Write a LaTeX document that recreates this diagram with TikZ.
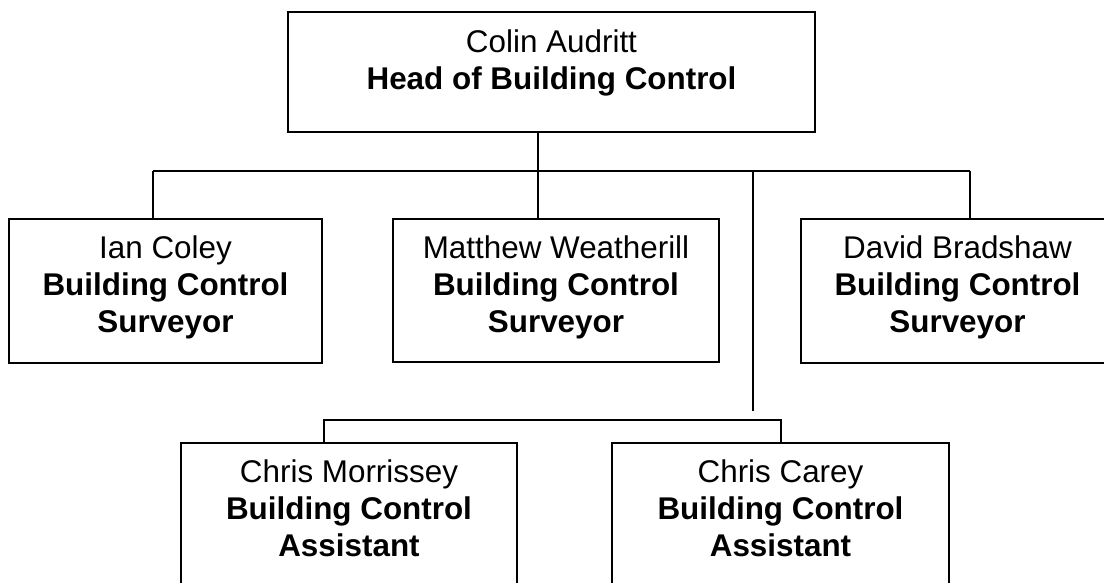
\documentclass[tikz,border=0pt]{standalone}
\usepackage{fontspec}
\setmainfont{Liberation Sans}
\usetikzlibrary{calc}
\begin{document}
\begin{tikzpicture}[x=1pt,y=-1pt,
  line width=1.2pt,
  postbox/.style={draw=black, line width=1.2pt, rectangle, inner sep=0pt},
  posttext/.style={anchor=north, inner sep=0pt, align=center,
    font=\fontsize{31.4}{36.8}\selectfont},
  wire/.style={draw=black, line width=1.2pt}]
\useasboundingbox (0,0) rectangle (1104,583);
\clip (0,0) rectangle (1104,583);
\fill[white] (0,0) rectangle (1104,583);

% posts
\node[postbox, minimum width=527pt, minimum height=120pt] (head) at (551.5,72) {};
\node[postbox, minimum width=313pt, minimum height=144pt] (ian) at (165.5,291) {};
\node[postbox, minimum width=326pt, minimum height=143pt] (matt) at (556,290.5) {};
\node[postbox, minimum width=313pt, minimum height=144pt] (david) at (957.5,291) {};
\node[postbox, minimum width=336pt, minimum height=144pt] (morr) at (349,515) {};
\node[postbox, minimum width=337pt, minimum height=144pt] (carey) at (780.5,515) {};

% names and titles
\node[posttext] at ([yshift=-18pt]head.north) {Colin Audritt\\\textbf{Head of Building Control}};
\node[posttext] at ([yshift=-17pt]ian.north) {Ian Coley\\\textbf{Building Control}\\\textbf{Surveyor}};
\node[posttext] at ([yshift=-17pt]matt.north) {Matthew Weatherill\\\textbf{Building Control}\\\textbf{Surveyor}};
\node[posttext] at ([yshift=-17pt]david.north) {David Bradshaw\\\textbf{Building Control}\\\textbf{Surveyor}};
\node[posttext] at ([yshift=-17pt]morr.north) {Chris Morrissey\\\textbf{Building Control}\\\textbf{Assistant}};
\node[posttext] at ([yshift=-17pt]carey.north) {Chris Carey\\\textbf{Building Control}\\\textbf{Assistant}};

% junction points of the reporting lines
\coordinate (jA) at (153,171);
\coordinate (jB) at (538,171);
\coordinate (jC) at (753,171);
\coordinate (jD) at (970,171);
\coordinate (jCend) at (753,411);
\coordinate (kA) at (324,420);
\coordinate (kB) at (781,420);

% reporting lines
\draw[wire] (head.south -| jB) -- (jB);
\draw[wire] (jA) -- (jD);
\draw[wire] (jA) -- (jA |- ian.north);
\draw[wire] (jB) -- (jB |- matt.north);
\draw[wire] (jD) -- (jD |- david.north);
\draw[wire] (jC) -- (jCend);
\draw[wire] (kA |- morr.north) -- (kA) -- (kB) -- (kB |- carey.north);
\end{tikzpicture}
\end{document}
